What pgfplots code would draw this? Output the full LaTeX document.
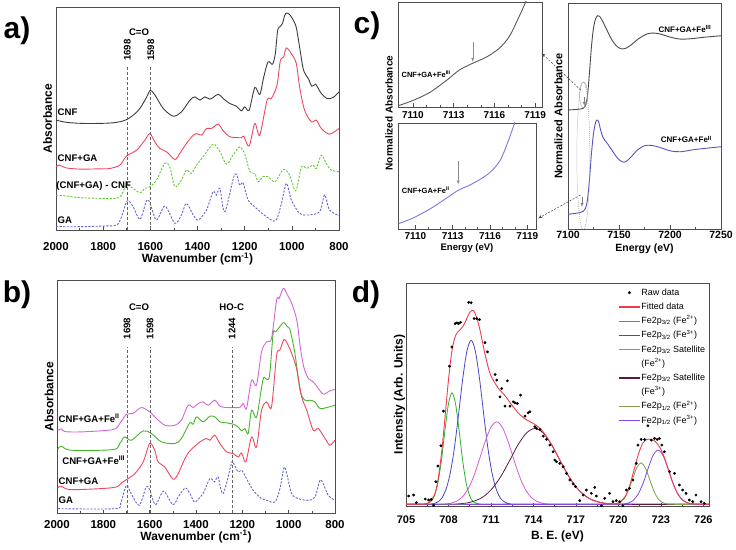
\documentclass[border=0pt]{standalone}
\usepackage{pgfplots}
\pgfplotsset{compat=1.18}
\usetikzlibrary{arrows.meta}
\usepackage{fontspec}
\setmainfont{Liberation Sans}
\newcommand{\fs}[1]{\fontsize{#1}{#1}\selectfont}
\definecolor{cnfk}{RGB}{60,60,60}
\definecolor{cnfr}{RGB}{240,70,95}
\definecolor{diffg}{RGB}{100,200,50}
\definecolor{gab}{RGB}{100,100,215}
\definecolor{femag}{RGB}{215,100,215}
\definecolor{feg}{RGB}{70,180,40}
\definecolor{ctop}{RGB}{75,75,75}
\definecolor{cblue}{RGB}{85,85,190}
\definecolor{cinset}{RGB}{120,120,230}
\definecolor{dred}{RGB}{240,60,80}
\definecolor{dgreen}{RGB}{40,180,40}
\definecolor{dblue}{RGB}{70,70,200}
\definecolor{dmag}{RGB}{215,90,215}
\definecolor{dmar}{RGB}{95,25,65}
\definecolor{dolive}{RGB}{125,160,75}
\definecolor{dpurp}{RGB}{135,70,230}
\tikzset{
 vline/.style={black!60, line width=0.7pt, dash pattern=on 3pt off 2pt},
 lbl/.style={font=\bfseries\fs{9.6}, inner sep=1pt},
}
\pgfplotsset{
 base/.style={
  scale only axis, anchor=south west, clip mode=individual,
  axis line style={draw=black!70, line width=0.7pt},
  tick align=inside, xtick pos=left, ytick=\empty,
  tick style={black!70, line width=0.6pt},
  major tick length=3.5pt, minor tick length=2pt,
  /pgf/number format/assume math mode=true,
  /pgf/number format/1000 sep={},
  xticklabel style={font=\bfseries\fs{11.5}, anchor=base, inner sep=0.2pt},
  xlabel style={font=\bfseries\fs{12}, anchor=base, inner sep=0.2pt},
  ylabel style={font=\bfseries\fs{12}, anchor=base, inner sep=0.2pt},
 },
 ftir/.style={base, x dir=reverse, xmin=800, xmax=2000, xtick={800,1000,...,2000}, minor x tick num=1,
  xlabel={Wavenumber (cm\textsuperscript{-1})}, ylabel={Absorbance}},
 spec/.style={smooth, line width=0.9pt},
 dsh/.style={smooth, line width=0.9pt, dash pattern=on 2.2pt off 1.4pt},
 dleg/.style={legend image code/.code={\draw[##1] (0pt,0pt) -- (21pt,0pt);}},
}
\begin{document}
\begin{tikzpicture}
\useasboundingbox (0pt,0pt) rectangle (736pt,549pt);
% ---------------- panel a
\begin{axis}[ftir, at={(56pt,319pt)}, width=283pt, height=223pt, ymin=0, ymax=670,
 xticklabel style={yshift=-20.2pt},
 xlabel style={at={([yshift=-32.6pt]axis description cs:0.5,0)}},
 ylabel style={at={([xshift=-4pt]axis description cs:0,0.5)}}]
\addplot[spec, cnfk] coordinates {(2000,330)(1950,323)(1870,320)(1760,322)(1700,332)(1650,360)(1615,400)(1600,420)(1580,405)(1545,365)(1503,342)(1468,355)(1432,390)(1411,400)(1390,390)(1369,400)(1348,393)(1334,398)(1312,408)(1291,395)(1263,380)(1235,372)(1214,358)(1200,370)(1181,360)(1157,428)(1136,407)(1119,460)(1101,505)(1082,498)(1070,530)(1060,600)(1048,612)(1040,620)(1030,645)(1022,652)(1010,648)(1000,638)(990,625)(980,605)(965,540)(952,485)(940,465)(930,455)(915,432)(900,438)(890,428)(875,410)(850,395)(825,398)(800,415)};
\addplot[spec, cnfr] coordinates {(2000,190)(1985,195)(1960,187)(1900,183)(1800,184)(1770,185)(1729,195)(1701,222)(1658,240)(1623,270)(1602,290)(1581,265)(1560,245)(1531,235)(1496,212)(1475,230)(1447,260)(1418,285)(1404,290)(1383,285)(1362,305)(1341,305)(1312,318)(1291,298)(1263,280)(1235,278)(1214,277)(1204,282)(1181,252)(1157,320)(1136,285)(1105,390)(1087,395)(1063,435)(1049,508)(1035,520)(1023,547)(1002,530)(981,500)(967,430)(946,360)(917,325)(896,330)(875,305)(840,288)(800,305)};
\addplot[dsh, diffg] coordinates {(2000,105)(1955,102)(1900,97)(1800,95)(1743,95)(1722,105)(1701,135)(1673,125)(1644,112)(1623,125)(1602,130)(1574,150)(1538,200)(1517,188)(1496,130)(1468,150)(1447,180)(1426,170)(1404,195)(1376,220)(1334,258)(1305,235)(1277,198)(1250,225)(1235,240)(1221,250)(1200,230)(1178,175)(1157,170)(1143,145)(1122,160)(1101,160)(1072,145)(1044,175)(1030,182)(1009,165)(983,118)(959,190)(938,185)(910,195)(896,185)(875,225)(854,200)(833,180)(800,175)};
\addplot[dsh, gab] coordinates {(2000,10)(1900,10)(1800,12)(1743,15)(1722,40)(1698,88)(1673,70)(1644,32)(1616,88)(1602,82)(1574,30)(1538,72)(1496,20)(1468,45)(1447,80)(1418,45)(1397,30)(1362,60)(1334,115)(1320,105)(1305,125)(1284,55)(1242,168)(1221,135)(1207,142)(1185,90)(1150,65)(1108,40)(1068,28)(1044,80)(1023,140)(1002,90)(967,50)(931,45)(882,55)(861,105)(840,60)(797,42)};
\draw[vline] (axis cs:1698,0) -- (axis cs:1698,495);
\draw[vline] (axis cs:1598,0) -- (axis cs:1598,495);
\node[lbl, rotate=90] at (axis cs:1698,540) {1698};
\node[lbl, rotate=90] at (axis cs:1598,540) {1598};
\node[lbl] at (axis cs:1648,595) {C=O};
\node[lbl, anchor=west] at (axis cs:1998,354) {CNF};
\node[lbl, anchor=west] at (axis cs:1998,215) {CNF+GA};
\node[lbl, anchor=west] at (axis cs:2003,133) {(CNF+GA) - CNF};
\node[lbl, anchor=west] at (axis cs:1998,30) {GA};
\end{axis}
% ---------------- panel b
\begin{axis}[ftir, at={(57pt,36pt)}, width=278pt, height=233pt, ymin=0, ymax=698,
 xticklabel style={yshift=-15pt},
 xlabel style={at={([yshift=-27.3pt]axis description cs:0.5,0)}},
 ylabel style={at={([xshift=-3.7pt]axis description cs:0,0.5)}}]
\addplot[spec, femag] coordinates {(1996,248)(1981,252)(1966,244)(1895,243)(1758,250)(1729,268)(1700,296)(1672,298)(1636,316)(1600,303)(1578,288)(1535,263)(1491,263)(1463,278)(1434,323)(1412,316)(1390,328)(1369,333)(1347,323)(1319,338)(1297,320)(1268,316)(1239,316)(1211,316)(1196,328)(1182,313)(1160,398)(1139,383)(1117,483)(1095,513)(1074,523)(1052,638)(1041,643)(1023,673)(1009,658)(987,628)(965,578)(950,498)(935,438)(915,403)(894,393)(872,373)(850,356)(822,366)(800,370)};
\addplot[spec, feg] coordinates {(1996,193)(1981,200)(1938,188)(1758,190)(1729,208)(1708,228)(1679,218)(1628,246)(1592,238)(1549,213)(1491,208)(1463,223)(1427,270)(1412,266)(1398,288)(1369,273)(1340,290)(1319,288)(1297,273)(1268,270)(1239,266)(1218,258)(1203,246)(1189,253)(1175,238)(1160,308)(1139,286)(1117,376)(1107,406)(1084,406)(1067,538)(1055,543)(1023,570)(1006,558)(994,548)(973,478)(951,368)(930,338)(908,338)(887,333)(865,313)(836,316)(800,323)};
\addplot[spec, cnfr] coordinates {(1996,76)(1981,80)(1938,70)(1758,76)(1722,90)(1700,100)(1664,118)(1628,153)(1600,208)(1578,188)(1564,153)(1535,138)(1499,101)(1477,118)(1448,163)(1427,186)(1405,200)(1383,213)(1355,223)(1340,218)(1319,233)(1297,208)(1268,183)(1239,178)(1218,168)(1203,180)(1185,153)(1160,228)(1139,198)(1117,308)(1095,333)(1074,318)(1052,473)(1038,488)(1020,520)(1006,508)(987,478)(966,433)(944,348)(922,308)(894,248)(872,253)(843,223)(822,203)(800,218)};
\addplot[dsh, gab] coordinates {(1996,13)(1750,13)(1725,30)(1700,83)(1680,58)(1645,23)(1615,78)(1600,70)(1575,25)(1540,65)(1500,25)(1475,50)(1445,75)(1420,50)(1405,33)(1370,58)(1340,103)(1320,93)(1305,108)(1283,58)(1247,148)(1239,150)(1218,123)(1203,128)(1182,103)(1153,68)(1117,43)(1095,38)(1059,33)(1038,73)(1020,136)(1009,120)(987,58)(958,43)(915,38)(886,48)(865,98)(850,86)(829,53)(800,38)};
\draw[vline] (axis cs:1698,0) -- (axis cs:1698,496);
\draw[vline] (axis cs:1598,0) -- (axis cs:1598,496);
\draw[vline] (axis cs:1244,0) -- (axis cs:1244,496);
\node[lbl, rotate=90] at (axis cs:1698,553) {1698};
\node[lbl, rotate=90] at (axis cs:1598,553) {1598};
\node[lbl, rotate=90] at (axis cs:1244,553) {1244};
\node[lbl] at (axis cs:1646,616) {C=O};
\node[lbl] at (axis cs:1246,616) {HO-C};
\node[lbl, anchor=west] at (axis cs:1998,284) {CNF+GA+Fe\textsuperscript{II}};
\node[lbl, anchor=west] at (axis cs:1982,158) {CNF+GA+Fe\textsuperscript{III}};
\node[lbl, anchor=west] at (axis cs:1998,96) {CNF+GA};
\node[lbl, anchor=west] at (axis cs:1998,38) {GA};
\end{axis}
% ---------------- panel c top inset
\begin{axis}[base, at={(398pt,442pt)}, width=144pt, height=105pt, xmin=7108.9, xmax=7119.5, ymin=0, ymax=317,
 xtick={7110,7113,7116,7119}, minor x tick num=2,
 xticklabel style={font=\bfseries\fs{10}, yshift=-12pt}]
\addplot[spec, color=black!65] coordinates {(7108.93,4)(7110.02,20)(7111.24,44)(7112.46,80)(7113.43,112)(7114.40,132)(7115.38,150)(7116.35,177)(7117.08,212)(7117.69,262)(7118.30,317)(7118.6,350)};
\draw[black!45, line width=0.4pt, -{latex}] (axis cs:7114.4,197) -- (axis cs:7114.4,136);
\node[font=\bfseries\fs{7.5}, anchor=west, inner sep=0pt] at (axis cs:7109.15,100) {CNF+GA+Fe\textsuperscript{III}};
\end{axis}
% ---------------- panel c bottom inset
\begin{axis}[base, at={(398pt,320pt)}, width=138pt, height=106pt, xmin=7108.6, xmax=7119.7, ymin=0, ymax=318,
 xtick={7110,7113,7116,7119}, minor x tick num=2, xlabel={Energy (eV)},
 xticklabel style={font=\bfseries\fs{10}, yshift=-11pt},
 xlabel style={font=\bfseries\fs{9.5}, at={([yshift=-22pt]axis description cs:0.5,0)}}]
\addplot[spec, cinset] coordinates {(7108.65,16)(7109.87,34)(7111.21,61)(7112.56,94)(7113.44,116)(7114.44,133)(7115.51,156)(7116.18,176)(7116.85,208)(7117.44,261)(7117.98,318)(7118.2,345)};
\draw[black!45, line width=0.4pt, -{latex}] (axis cs:7113.44,203) -- (axis cs:7113.44,133);
\node[font=\bfseries\fs{7.5}, anchor=west, inner sep=0pt] at (axis cs:7108.9,116) {CNF+GA+Fe\textsuperscript{II}};
\end{axis}
% ---------------- panel c main
\begin{axis}[base, at={(568pt,320pt)}, width=153pt, height=226pt, xmin=7100, xmax=7250, ymin=0, ymax=676,
 xtick={7100,7150,7200,7250}, minor x tick num=1, xlabel={Energy (eV)}, ylabel={Normalized Absorbance},
 xticklabel style={font=\bfseries\fs{10.5}, yshift=-9.5pt},
 xlabel style={font=\bfseries\fs{10.5}, at={([yshift=-22.5pt]axis description cs:0.5,0)}},
 ylabel style={font=\bfseries\fs{11}, at={([xshift=-5.7pt]axis description cs:0,0.5)}}]
\addplot[spec, ctop] coordinates {(7100,356)(7110,358)(7115,361)(7117,368)(7119,396)(7121,466)(7123,546)(7125,601)(7127,628)(7129,638)(7131,636)(7134,621)(7138,596)(7142,571)(7147,549)(7152,539)(7157,541)(7162,551)(7170,571)(7178,584)(7185,586)(7192,582)(7200,574)(7210,568)(7220,569)(7235,574)(7250,578)};
\addplot[spec, cblue] coordinates {(7100,44)(7110,48)(7115,53)(7117,61)(7119,86)(7121,146)(7123,226)(7125,286)(7127,318)(7128.5,326)(7130,321)(7132,296)(7134,276)(7136,266)(7139,254)(7143,236)(7148,214)(7153,201)(7157,202)(7162,216)(7168,236)(7175,249)(7182,250)(7190,244)(7200,234)(7210,231)(7225,238)(7250,246)};
\node[font=\bfseries\fs{8}] at (axis cs:7214.6,598) {CNF+GA+Fe\textsuperscript{III}};
\node[font=\bfseries\fs{8}] at (axis cs:7216,268) {CNF+GA+Fe\textsuperscript{II}};
\end{axis}
% ---------------- panel d
\begin{axis}[base, dleg, at={(406pt,43pt)}, width=303pt, height=223pt, xmin=705, xmax=726.4, ymin=0, ymax=670,
 xtick={705,708,...,726}, minor x tick num=1, xlabel={B. E. (eV)}, ylabel={Intensity (Arb. Units)},
 xticklabel style={font=\bfseries\fs{11}, yshift=-17pt},
 xlabel style={at={([yshift=-33.5pt]axis description cs:0.5,0)}},
 ylabel style={at={([xshift=-3.4pt]axis description cs:0,0.5)}},
 legend style={at={(0.69,0.99)}, anchor=north west, draw=none, fill=none, font=\fs{9}, row sep=3.6pt,
  nodes={inner sep=0.8pt, text height=7pt, text depth=2pt}},
 legend cell align=left]
\addplot[smooth, dgreen, line width=0.8pt, forget plot] coordinates {(705,5)(706,5)(706.25,5.5)(706.75,13)(707,30)(707.25,69)(707.5,137)(707.75,227)(708,307)(708.25,340)(708.5,307)(708.75,227)(709,137)(709.25,69)(709.5,30)(709.75,13)(710.25,5.5)(710.5,5)(726.4,5)};
\addplot[smooth, dblue, line width=0.8pt, forget plot] coordinates {(705,5)(706.4,5)(706.8,6)(707.2,11)(707.5,22)(707.8,47)(708.1,94)(708.4,169)(708.7,271)(709,380)(709.3,465)(709.6,498)(709.9,465)(710.2,380)(710.5,271)(710.8,169)(711.1,94)(711.4,47)(711.7,22)(712,11)(712.4,6)(712.8,5)(726.4,5)};
\addplot[smooth, dmag, line width=0.8pt, forget plot] coordinates {(705,5)(707.4,5)(707.8,6)(708.2,8.6)(708.6,15)(709,28)(709.4,52)(709.8,91)(710.2,142)(710.6,195)(711,237)(711.4,253)(711.8,237)(712.2,195)(712.6,142)(713,91)(713.4,52)(713.8,28)(714.2,15)(714.6,8.6)(715,6)(715.4,5)(726.4,5)};
\addplot[smooth, dmar, line width=0.8pt, forget plot] coordinates {(705,5)(708.1,5)(708.7,6.5)(709.3,9)(709.9,16)(710.5,29)(711.1,53)(711.7,89)(712.3,135)(712.9,183)(713.5,219)(714.1,233)(714.7,219)(715.3,183)(715.9,135)(716.5,89)(717.1,53)(717.7,29)(718.3,16)(718.9,9)(719.5,6.5)(720.1,5)(726.4,5)};
\addplot[smooth, dolive, line width=0.8pt, forget plot] coordinates {(705,5)(719.4,5)(719.8,6.4)(720.1,10.5)(720.4,22)(720.7,46)(721,81)(721.3,115)(721.6,130)(721.9,115)(722.2,81)(722.5,46)(722.8,22)(723.1,10.5)(723.4,6.4)(723.8,5)(726.4,5)};
\addplot[smooth, dpurp, line width=0.8pt, forget plot] coordinates {(705,5)(719.9,5)(720.35,6)(720.7,9)(721.05,17)(721.4,36)(721.75,69)(722.1,113)(722.45,152)(722.8,168)(723.15,152)(723.5,113)(723.85,69)(724.2,36)(724.55,17)(724.9,9)(725.25,6)(725.7,5)(726.4,5)};
\addplot[smooth, dred, line width=0.9pt, forget plot] coordinates {(705,5)(706,5.5)(706.5,7)(707,33)(707.25,76)(707.5,155)(707.75,264)(708,379)(708.25,468)(708.5,512)(708.75,527)(709,538)(709.25,559)(709.5,581)(709.75,588)(710,565)(710.25,524)(710.5,472)(710.75,426)(711,391)(711.5,355)(712,331)(712.5,302)(713,276)(713.5,259)(714,248)(714.5,232)(715,204)(715.5,167)(716,127)(716.5,89)(717,58)(717.5,36)(718,21)(718.5,13)(719,8.6)(719.5,6.5)(720,9)(720.5,30)(720.8,62)(721.1,107)(721.4,154)(721.7,187)(722,200)(722.3,200)(722.6,194)(722.9,178)(723.2,151)(723.5,114)(723.8,75)(724.1,44)(724.4,24)(724.8,11)(725.3,6)(726.4,5)};
\addplot[only marks, mark=*, mark size=1.2pt, black, forget plot] coordinates {(705.19,30)(705.54,33)(705.73,10)(706.36,21)(706.60,18)(706.78,20)(706.95,2)(707.11,73)(707.25,120)(707.46,181)(707.65,285)(708.07,420)(708.24,478)(708.47,548)(708.60,550)(708.71,548)(708.85,552)(709.43,612)(709.60,611)(709.81,563)(710.00,563)(710.19,560)(710.58,491)(710.75,463)(711.29,395)(711.41,378)(711.64,328)(711.76,353)(711.99,300)(712.16,376)(712.34,300)(712.58,313)(712.70,310)(712.86,308)(713.09,333)(713.40,270)(713.63,280)(713.75,283)(714.10,238)(714.22,233)(714.46,230)(714.69,210)(714.92,200)(715.16,183)(715.39,163)(715.51,138)(715.63,133)(715.86,128)(716.10,118)(716.33,98)(716.57,78)(716.80,66)(716.97,58)(717.27,16)(717.51,33)(717.74,48)(718.09,38)(718.33,56)(718.44,30)(718.80,1)(719.03,23)(719.38,38)(719.62,13)(719.85,16)(720.09,13)(720.32,1)(720.56,48)(720.79,53)(721.03,78)(721.26,128)(721.38,183)(721.61,200)(721.85,200)(722.08,241)(722.32,198)(722.55,203)(722.74,200)(722.90,203)(723.07,183)(723.25,163)(723.61,103)(723.96,98)(724.31,63)(724.54,48)(724.78,38)(725.01,18)(725.25,13)(725.48,33)(725.84,13)(726.07,8)};
\addlegendimage{legend image code/.code={\fill[black] (10.5pt,0pt) circle (1.3pt);}}
\addlegendentry{Raw data}
\addlegendimage{draw=dred, line width=1.3pt}
\addlegendentry{Fitted data}
\addlegendimage{draw=dgreen, line width=1.2pt}
\addlegendentry{Fe2p\textsubscript{3/2} (Fe\textsuperscript{2+})}
\addlegendimage{draw=dblue, line width=1.2pt}
\addlegendentry{Fe2p\textsubscript{3/2} (Fe\textsuperscript{3+})}
\addlegendimage{draw=dmag, line width=1.2pt}
\addlegendentry{Fe2p\textsubscript{3/2} Satellite}
\addlegendimage{empty legend}
\addlegendentry{(Fe\textsuperscript{2+})}
\addlegendimage{draw=dmar, line width=1.2pt}
\addlegendentry{Fe2p\textsubscript{3/2} Satellite}
\addlegendimage{empty legend}
\addlegendentry{(Fe\textsuperscript{3+})}
\addlegendimage{draw=dolive, line width=1.2pt}
\addlegendentry{Fe2p\textsubscript{1/2} (Fe\textsuperscript{2+})}
\addlegendimage{draw=dpurp, line width=1.2pt}
\addlegendentry{Fe2p\textsubscript{1/2} (Fe\textsuperscript{3+})}
\end{axis}
% ---------------- panel c annotations
\draw[black!40, line width=0.5pt, dash pattern=on 1pt off 1pt] (583.3pt,393pt) ellipse (6.5pt and 74pt);
\draw[black!40, line width=0.4pt] (583.5pt,454pt) ellipse (4pt and 13pt);
\draw[black!75, line width=0.5pt, dash pattern=on 2pt off 1.5pt, -{Stealth[length=4pt]}] (580.7pt,459pt) -- (541.7pt,495.7pt);
\draw[black!75, line width=0.5pt, dash pattern=on 2pt off 1.5pt, -{Stealth[length=4pt]}] (580.5pt,354pt) -- (538.3pt,330.7pt);
\draw[black!50, line width=0.4pt, -{latex}] (584.3pt,452pt) -- (584.3pt,443pt);
\draw[black!50, line width=0.4pt, -{latex}] (582pt,352pt) -- (582pt,342pt);
% ---------------- inset ylabel
\node[font=\bfseries\fs{10}, rotate=90, anchor=base] at (392.5pt,436pt) {Normalized Absorbance};
% ---------------- panel letters
\node[font=\bfseries\fs{30}] at (17pt,518pt) {a)};
\node[font=\bfseries\fs{30}] at (17pt,254pt) {b)};
\node[font=\bfseries\fs{30}] at (367pt,523pt) {c)};
\node[font=\bfseries\fs{30}] at (366pt,254pt) {d)};
\end{tikzpicture}
\end{document}
